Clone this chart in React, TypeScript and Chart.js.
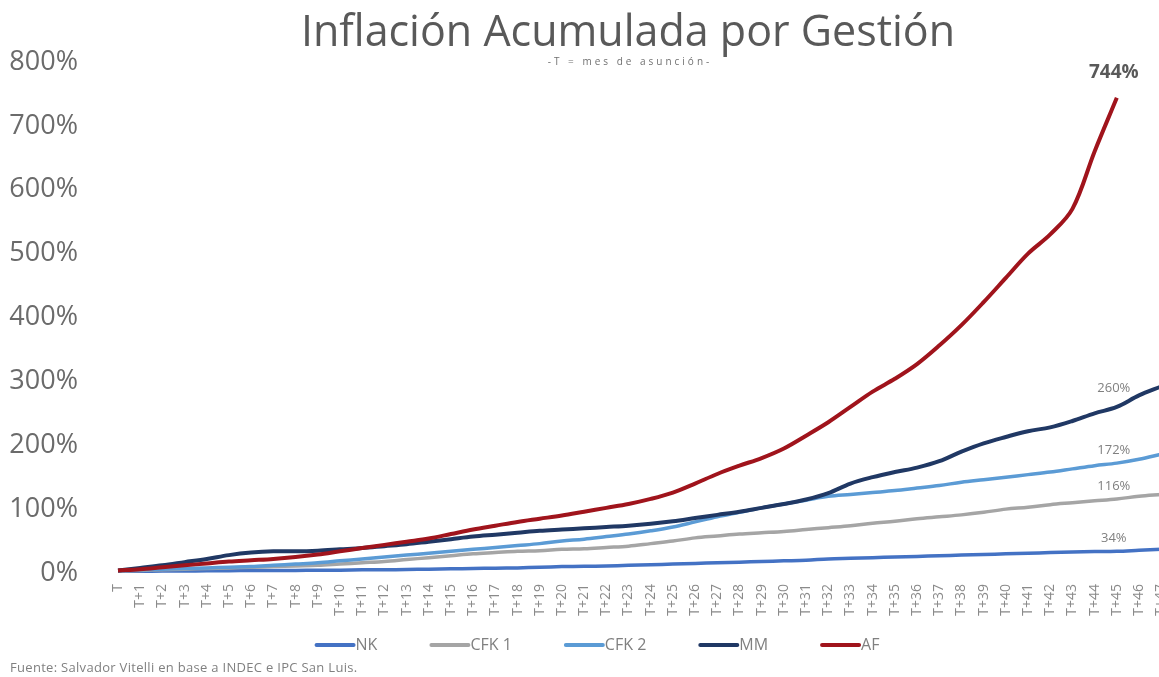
import { useEffect, useRef } from "react";
import { Chart, registerables } from "chart.js";

Chart.register(...registerables);

const categories = [
  "T", "T+1", "T+2", "T+3", "T+4", "T+5", "T+6", "T+7", "T+8", "T+9",
  "T+10", "T+11", "T+12", "T+13", "T+14", "T+15", "T+16", "T+17", "T+18", "T+19",
  "T+20", "T+21", "T+22", "T+23", "T+24", "T+25", "T+26", "T+27", "T+28", "T+29",
  "T+30", "T+31", "T+32", "T+33", "T+34", "T+35", "T+36", "T+37", "T+38", "T+39",
  "T+40", "T+41", "T+42", "T+43", "T+44", "T+45", "T+46", "T+47",
];

const NK = [
  2, 2.5, 3, 3, 3.5, 3.5, 4, 4, 4, 4.5,
  4.5, 5, 5, 5.5, 6, 6.5, 7, 7.5, 8, 9,
  10, 10.5, 11, 12, 13, 14, 15, 16, 17, 18,
  19, 20, 22, 23, 24, 25, 26, 27, 28, 29,
  30, 31, 32, 33, 33.5, 34, 35.5, 37,
];

const CFK1 = [
  3, 4, 5, 6, 7, 8, 9, 10, 11, 12,
  14, 16, 18, 21, 24, 27, 30, 32, 34, 35,
  37, 38, 40, 42, 46, 50, 55, 58, 61, 63,
  65, 68, 71, 74, 78, 81, 85, 88, 91, 95,
  100, 103, 107, 110, 113, 116, 120, 123,
];

const CFK2 = [
  4, 5, 6, 7, 8, 9, 10, 12, 14, 16,
  19, 22, 25, 28, 31, 34, 37, 40, 43, 46,
  50, 53, 57, 61, 66, 72, 80, 88, 95, 102,
  108, 114, 120, 123, 126, 129, 133, 137, 142, 146,
  150, 154, 158, 163, 168, 172, 178, 186,
];

const MM = [
  4, 8, 12, 17, 22, 28, 32, 34, 34, 35,
  37, 39, 42, 45, 49, 53, 57, 60, 63, 66,
  68, 70, 72, 74, 77, 81, 86, 91, 96, 102,
  108, 115, 125, 140, 150, 158, 165, 175, 190, 203,
  213, 222, 228, 238, 250, 260, 278, 292,
];

const AF = [
  4, 6, 9, 12, 15, 18, 20, 22, 25, 29,
  34, 39, 44, 49, 54, 61, 68, 74, 80, 85,
  90, 96, 102, 108, 116, 126, 140, 155, 168, 180,
  195, 215, 236, 260, 284, 304, 327, 356, 388, 424,
  462, 500, 530, 570, 660, 744,
];

const seriesNames = ["NK", "CFK 1", "CFK 2", "MM", "AF"];
const seriesColors = ["#4472C4", "#A5A5A5", "#5B9BD5", "#203864", "#A0141C"];
const yTicks = [0, 100, 200, 300, 400, 500, 600, 700, 800];
const labelIndex = 45;

const FONT = "'Open Sans', 'Noto Sans', sans-serif";

const overlayPlugin = {
  id: "overlay",
  afterDatasetsDraw(chart: any) {
    const ctx = chart.ctx;
    ctx.save();
    ctx.textAlign = "center";
    ctx.textBaseline = "middle";
    chart.data.datasets.forEach((ds: any, di: number) => {
      const meta = chart.getDatasetMeta(di);
      const pt = meta.data[labelIndex];
      const v = ds.data[labelIndex];
      if (!pt || v == null) return;
      const isAF = ds.label === "AF";
      if (isAF) {
        ctx.font = `bold 19px ${FONT}`;
        ctx.fillStyle = "#595959";
        ctx.fillText(`${v}%`, pt.x - 3, pt.y - 25);
      } else {
        ctx.font = `13px ${FONT}`;
        ctx.fillStyle = "#808080";
        const off = ds.label === "MM" ? 19 : 13;
        ctx.fillText(`${v}%`, pt.x - 3, pt.y - off);
      }
    });
    ctx.restore();
  },
  afterDraw(chart: any) {
    const ctx = chart.ctx;
    ctx.save();
    // Title
    ctx.textAlign = "center";
    ctx.textBaseline = "alphabetic";
    ctx.fillStyle = "#595959";
    ctx.font = `43px ${FONT}`;
    ctx.fillText("Inflación Acumulada por Gestión", 628, 46);
    // Subtitle
    ctx.font = `10px ${FONT}`;
    ctx.fillStyle = "#707070";
    (ctx as any).letterSpacing = "3px";
    ctx.fillText("-T = mes de asunción-", 630, 65);
    (ctx as any).letterSpacing = "0px";

    // Legend
    ctx.font = `16px ${FONT}`;
    ctx.textBaseline = "middle";
    ctx.textAlign = "left";
    const lineLen = 37;
    const gapText = 2;
    const itemGap = 54;
    const widths = chart.data.datasets.map(
      (ds: any) => lineLen + gapText + ctx.measureText(ds.label).width
    );
    const total = widths.reduce((a: number, b: number) => a + b, 0) + itemGap * (widths.length - 1);
    let x = 598 - total / 2;
    const ly = 645;
    chart.data.datasets.forEach((ds: any, i: number) => {
      ctx.strokeStyle = ds.borderColor;
      ctx.lineWidth = 4;
      ctx.lineCap = "round";
      ctx.beginPath();
      ctx.moveTo(x, ly);
      ctx.lineTo(x + lineLen, ly);
      ctx.stroke();
      ctx.fillStyle = "#808080";
      ctx.fillText(ds.label, x + lineLen + gapText, ly);
      x += widths[i] + itemGap;
    });

    // Footer
    ctx.font = `13px ${FONT}`;
    ctx.fillStyle = "#808080";
    ctx.textAlign = "left";
    (ctx as any).letterSpacing = "0.3px";
    ctx.fillText("Fuente: Salvador Vitelli en base a INDEC e IPC San Luis.", 10, 668);
    (ctx as any).letterSpacing = "0px";
    ctx.restore();
  },
};

export default function App() {
  const ref = useRef<HTMLCanvasElement | null>(null);
  useEffect(() => {
    if (!ref.current) return;
    const seriesData = [NK, CFK1, CFK2, MM, AF];
    const chart = new Chart(ref.current, {
      type: "line",
      data: {
        labels: categories,
        datasets: seriesNames.map((name, i) => ({
          label: name,
          data: seriesData[i],
          borderColor: seriesColors[i],
          backgroundColor: seriesColors[i],
          borderWidth: i === 4 || i === 3 ? 4 : 3.5,
          pointRadius: 0,
          tension: 0.35,
          fill: false,
          order: 5 - i,
        })),
      },
      options: {
        responsive: false,
        animation: false,
        layout: { padding: { left: 8, top: 62, right: 14, bottom: 0 } },
        plugins: {
          legend: { display: false },
          title: { display: false },
          tooltip: { enabled: false },
        },
        scales: {
          x: {
            grid: { display: false, drawTicks: false },
            border: { display: false },
            ticks: {
              autoSkip: false,
              maxRotation: 90,
              minRotation: 90,
              padding: 11,
              color: "#8a8a8a",
              font: { family: FONT, size: 14 },
            },
            afterFit(scale: any) {
              scale.height = 104;
            },
          },
          y: {
            min: 0,
            max: 800,
            grid: { display: false, drawTicks: false },
            border: { display: false },
            afterBuildTicks(scale: any) {
              scale.ticks = yTicks.map((v) => ({ value: v }));
            },
            ticks: {
              padding: 40,
              color: "#6b6b6b",
              font: { family: FONT, size: 27 },
              callback: (v: any) => `${v}%`,
            },
            afterFit(scale: any) {
              scale.width = 110;
            },
          },
        },
      },
      plugins: [overlayPlugin],
    });
    return () => chart.destroy();
  }, []);
  return (
    <div style={{ position: "fixed", left: 0, top: 0, width: 1189, height: 677, background: "#fff" }}>
      <canvas ref={ref} width={1189} height={677} style={{ display: "block" }} />
    </div>
  );
}
